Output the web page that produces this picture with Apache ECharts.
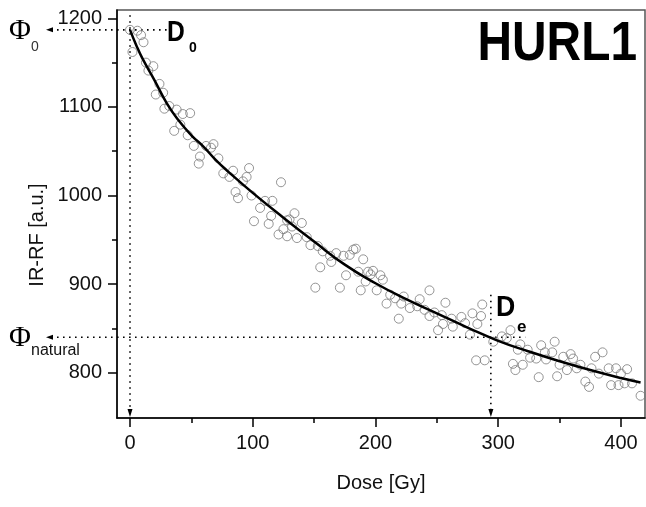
<!DOCTYPE html>
<html>
<head>
<meta charset="utf-8">
<script src="https://cdn.jsdelivr.net/npm/echarts@6/dist/echarts.min.js"></script>
<style>
html,body{margin:0;padding:0;background:#fff;}
#c{width:646px;height:507px;}
</style>
</head>
<body>
<div id="c"></div>
<script>
// ---- data ----
const doseData = [0,2,6,9,11,13,15,19,21,24,27,28,32,36,38,41,43,47,49,52,56,57,62,66,68,72,76,81,84,86,88,92,95,97,99,101,106,110,113,115,116,121,123,125,128,128,130,132,134,136,140,144,147,151,153,155,157,163,164,168,171,174,176,179,182,184,186,188,190,192,194,196,198,201,204,206,209,212,216,219,221,223,228,234,236,240,244,244,248,251,254,257,255,262,263,270,273,277,279,282,283,286,287,289,296,303,307,310,312,314,316,318,320,324,326,331,333,335,339,338,344,346,348,350,353,356,359,361,364,367,371,374,376,379,382,385,390,392,396,398,400,403,405,409,416];
const signalData = [1187,1162,1186,1181,1173,1150,1141,1146,1114,1126,1116,1098,1101,1073,1097,1080,1092,1068,1093,1056,1036,1044,1056,1054,1058,1042,1025,1021,1028,1004,997,1016,1021,1031,1000,971,986,994,968,977,994,956,1015,962,972,954,973,965,980,952,969,953,944,896,943,919,937,932,925,935,896,932,910,933,939,940,914,893,928,903,914,911,915,893,910,905,878,888,884,861,878,886,873,875,883,871,864,893,868,848,865,879,855,861,852,863,856,843,867,814,855,864,877,814,835,841,839,848,810,803,826,832,809,826,817,816,795,831,815,823,823,835,796,809,818,803,821,816,805,809,790,784,805,818,799,823,805,786,805,786,799,788,804,788,774];
const curveDose = [0,5,10,20,30,40,50,60,70,80,100,125,150,175,200,225,250,275,300,325,350,375,400,416];
const curveSignal = [1187,1170,1155,1130,1104,1084,1068,1055,1040,1027,1003,975,948,922,901,883,867,851,836,824,813,803,794,789];
const xMajorTicks = [0,100,200,300,400];
const xMinorTicks = [50,150,250,350];
const yMajorTicks = [800,900,1000,1100,1200];
const yMinorTicks = [850,950,1050,1150];
const phi0 = 1187, phiNatural = 840, doseD0 = 0, doseDe = 294;

const X_MIN = -10.6, X_MAX = 419.6, Y_MIN = 748.9, Y_MAX = 1209.4;
const FONT = 'Liberation Sans';
const SERIF = 'Liberation Serif';

const chart = echarts.init(document.getElementById('c'), null, {renderer: 'canvas'});

const scatter = doseData.map((d, i) => [d, signalData[i]]);
const curve = curveDose.map((d, i) => [d, curveSignal[i]]);
const plain = v => String(v);

const baseX = {
  type: 'value', min: X_MIN, max: X_MAX, position: 'bottom',
  axisLine: {show: true, onZero: false, lineStyle: {color: '#000', width: 1.5}},
  splitLine: {show: false}
};
const baseY = {
  type: 'value', min: Y_MIN, max: Y_MAX, position: 'left',
  axisLine: {show: true, onZero: false, lineStyle: {color: '#000', width: 1.5}},
  splitLine: {show: false}
};

chart.setOption({
  animation: false,
  backgroundColor: '#fff',
  grid: {left: 117, right: 1, top: 10, bottom: 89, show: true, borderColor: '#555', borderWidth: 1.5, backgroundColor: 'transparent'},
  xAxis: [
    Object.assign({}, baseX, {
      name: 'Dose [Gy]', nameLocation: 'middle', nameGap: 55,
      nameTextStyle: {fontFamily: FONT, fontSize: 20, color: '#111'},
      axisTick: {show: true, length: 9, customValues: xMajorTicks, lineStyle: {color: '#000', width: 1.5}},
      axisLabel: {show: true, margin: 15, customValues: xMajorTicks, formatter: plain, fontFamily: FONT, fontSize: 20, color: '#111'}
    }),
    Object.assign({}, baseX, {
      axisLine: {show: false, onZero: false},
      axisTick: {show: true, length: 5, customValues: xMinorTicks, lineStyle: {color: '#000', width: 1.5}},
      axisLabel: {show: false}
    })
  ],
  yAxis: [
    Object.assign({}, baseY, {
      axisTick: {show: true, length: 9, customValues: yMajorTicks, lineStyle: {color: '#000', width: 1.5}},
      axisLabel: {show: true, margin: 15, customValues: yMajorTicks, formatter: plain, fontFamily: FONT, fontSize: 20, color: '#111'}
    }),
    Object.assign({}, baseY, {
      axisLine: {show: false, onZero: false},
      axisTick: {show: true, length: 5, customValues: yMinorTicks, lineStyle: {color: '#000', width: 1.5}},
      axisLabel: {show: false}
    })
  ],
  series: [
    {
      type: 'scatter', xAxisIndex: 0, yAxisIndex: 0, data: scatter,
      symbol: 'circle', symbolSize: 9,
      itemStyle: {color: 'rgba(255,255,255,0)', borderColor: '#7a7a7a', borderWidth: 1},
      z: 2
    },
    {
      type: 'line', xAxisIndex: 0, yAxisIndex: 0, data: curve,
      smooth: true, showSymbol: false, symbol: 'none',
      lineStyle: {color: '#000', width: 2.5},
      z: 3
    }
  ]
});

// ---- annotations, positioned through the axes ----
function px(d, v) { return chart.convertToPixel({xAxisIndex: 0, yAxisIndex: 0}, [d, v]); }
const dot = {stroke: '#000', lineWidth: 1.6, lineDash: [1.6, 4.4], fill: null};
const g = [];
const yPhi0 = px(0, phi0)[1];
const yPhiN = px(0, phiNatural)[1];
const xD0 = px(doseD0, 800)[0];
const xDe = px(doseDe, 800)[0];
const yAxisPx = px(0, Y_MIN)[1];
const tipX = 46;

function txt(x, y, text, size, opts) {
  opts = opts || {};
  return {
    type: 'text', x: x, y: y, scaleX: opts.scaleX || 1, rotation: opts.rotation || 0,
    style: {
      text: text, fontSize: size, fontFamily: opts.family || FONT,
      fontWeight: opts.bold ? 'bold' : 'normal', fill: opts.color || '#000',
      align: opts.align || 'left', verticalAlign: 'middle'
    }
  };
}

// horizontal dotted lines with left arrowheads
g.push({type: 'line', shape: {x1: tipX + 5, y1: yPhi0, x2: px(30, phi0)[0], y2: yPhi0}, style: dot, silent: true});
g.push({type: 'polygon', shape: {points: [[tipX, yPhi0], [tipX + 7, yPhi0 - 2.5], [tipX + 7, yPhi0 + 2.5]]}, style: {fill: '#000'}});
g.push({type: 'line', shape: {x1: tipX + 5, y1: yPhiN, x2: px(322, phiNatural)[0], y2: yPhiN}, style: dot, silent: true});
g.push({type: 'polygon', shape: {points: [[tipX, yPhiN], [tipX + 7, yPhiN - 2.5], [tipX + 7, yPhiN + 2.5]]}, style: {fill: '#000'}});
// vertical dotted lines with down arrowheads
g.push({type: 'line', shape: {x1: xD0, y1: px(0, 1203.5)[1], x2: xD0, y2: yAxisPx - 6}, style: dot, silent: true});
g.push({type: 'polygon', shape: {points: [[xD0, yAxisPx - 1], [xD0 - 2.5, yAxisPx - 9], [xD0 + 2.5, yAxisPx - 9]]}, style: {fill: '#000'}});
g.push({type: 'line', shape: {x1: xDe, y1: px(doseDe, 888)[1], x2: xDe, y2: yAxisPx - 6}, style: dot, silent: true});
g.push({type: 'polygon', shape: {points: [[xDe, yAxisPx - 1], [xDe - 2.5, yAxisPx - 9], [xDe + 2.5, yAxisPx - 9]]}, style: {fill: '#000'}});

// texts
g.push(txt(9, yPhi0 + 1, 'Φ', 30, {family: SERIF}));
g.push(txt(31, yPhi0 + 17, '0', 14, {color: '#333'}));
g.push(txt(9, yPhiN + 1, 'Φ', 30, {family: SERIF}));
g.push(txt(31, yPhiN + 13, 'natural', 16, {color: '#111'}));

g.push(txt(167, 33, 'D', 29, {bold: true, scaleX: 0.85}));
g.push(txt(189, 48, '0', 14, {bold: true}));
g.push(txt(496, 308, 'D', 29, {bold: true, scaleX: 0.92}));
g.push(txt(517, 327, 'e', 17, {bold: true}));

g.push(txt(637, 45, 'HURL1', 55, {bold: true, scaleX: 0.87, align: 'right'}));

g.push(txt(37, 235, 'IR-RF [a.u.]', 20, {rotation: Math.PI / 2, align: 'center', color: '#111'}));

chart.setOption({graphic: g});
</script>
</body>
</html>
